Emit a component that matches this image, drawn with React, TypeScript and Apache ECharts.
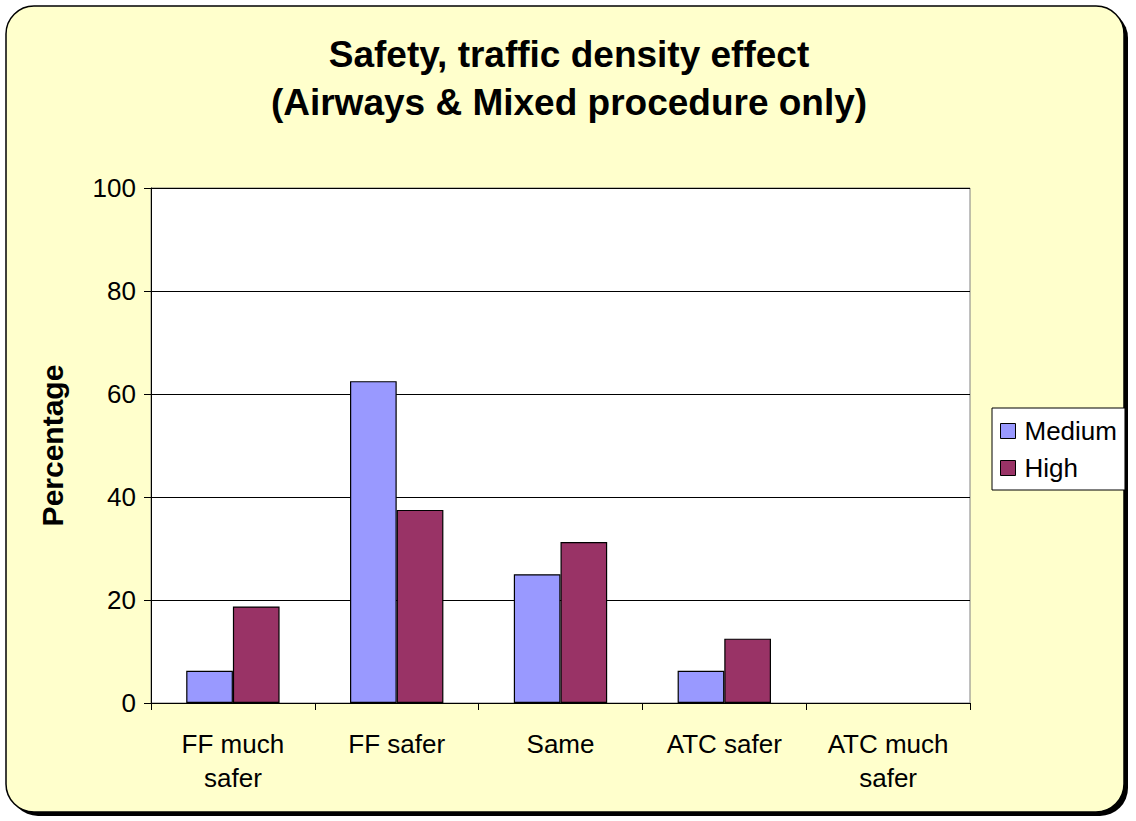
import React, { useEffect, useRef } from "react";
import * as echarts from "echarts";

const categories = ["FF much\nsafer", "FF safer", "Same", "ATC safer", "ATC much\nsafer"];
const mediumValues = [6.25, 62.5, 25, 6.25, 0];
const highValues = [18.75, 37.5, 31.25, 12.5, 0];
const seriesNames = ["Medium", "High"];
const yTicks = { min: 0, max: 100, interval: 20 };

const FONT = "'Liberation Sans', Arial, sans-serif";

const toData = (vals: number[]) =>
  vals.map((v) => (v === 0 ? { value: v, itemStyle: { borderWidth: 0 } } : v));

export default function App() {
  const ref = useRef<HTMLDivElement>(null);
  useEffect(() => {
    if (!ref.current) return;
    const chart = echarts.init(ref.current, null, { renderer: "svg" });
    chart.setOption({
      animation: false,
      backgroundColor: "#ffffff",
      textStyle: { fontFamily: FONT },
      graphic: [
        {
          type: "rect",
          z: -10,
          silent: true,
          shape: { x: 10, y: 10, width: 1118, height: 806, r: 28 },
          style: { fill: "#000000" },
        },
        {
          type: "rect",
          z: -9,
          silent: true,
          shape: { x: 6, y: 6, width: 1118, height: 806, r: 28 },
          style: { fill: "#FFFFCC", stroke: "#000000", lineWidth: 1.5 },
        },
      ],
      title: {
        text: "Safety, traffic density effect\n(Airways & Mixed procedure only)",
        left: 569,
        textAlign: "center",
        top: 30,
        padding: 0,
        textStyle: {
          fontFamily: FONT,
          fontSize: 37,
          fontWeight: "bold",
          color: "#000",
          lineHeight: 48,
        },
      },
      legend: {
        orient: "vertical",
        left: 992,
        top: 408,
        padding: [10, 8, 9, 8],
        itemGap: 11,
        itemWidth: 15,
        itemHeight: 15,
        backgroundColor: "#ffffff",
        borderColor: "#000000",
        borderWidth: 1,
        borderRadius: 0,
        icon: "rect",
        itemStyle: { borderColor: "#000", borderWidth: 1 },
        textStyle: { fontFamily: FONT, fontSize: 26, color: "#000", padding: [0, 0, 0, 4] },
        data: seriesNames,
      },
      grid: {
        left: 151,
        top: 188,
        width: 819,
        height: 515,
        show: true,
        backgroundColor: "#ffffff",
        borderColor: "#808080",
        borderWidth: 1,
        containLabel: false,
      },
      xAxis: {
        type: "category",
        data: categories,
        axisLine: { show: true, lineStyle: { color: "#000", width: 1 } },
        axisTick: { show: true, length: 7, alignWithLabel: false, lineStyle: { color: "#000" } },
        axisLabel: {
          fontFamily: FONT,
          fontSize: 26,
          color: "#000",
          lineHeight: 34,
          margin: 24,
          interval: 0,
        },
      },
      yAxis: {
        type: "value",
        min: yTicks.min,
        max: yTicks.max,
        interval: yTicks.interval,
        name: "Percentage",
        nameLocation: "middle",
        nameGap: 84,
        nameTextStyle: { fontFamily: FONT, fontSize: 30, fontWeight: "bold", color: "#000" },
        axisLine: { show: true, lineStyle: { color: "#000", width: 1 } },
        axisTick: { show: true, length: 7, lineStyle: { color: "#000" } },
        axisLabel: { fontFamily: FONT, fontSize: 26, color: "#000", margin: 15 },
        splitLine: { show: true, lineStyle: { color: "#000", width: 1 } },
      },
      series: [
        {
          name: seriesNames[0],
          type: "bar",
          data: toData(mediumValues),
          barGap: "0%",
          barCategoryGap: "43%",
          itemStyle: { color: "#9999FF", borderColor: "#000", borderWidth: 1.2 },
        },
        {
          name: seriesNames[1],
          type: "bar",
          data: toData(highValues),
          barGap: "0%",
          barCategoryGap: "43%",
          itemStyle: { color: "#993366", borderColor: "#000", borderWidth: 1.2 },
        },
      ],
    });
    return () => chart.dispose();
  }, []);
  return (
    <div
      ref={ref}
      style={{ position: "absolute", left: 0, top: 0, width: 1136, height: 821 }}
    />
  );
}
